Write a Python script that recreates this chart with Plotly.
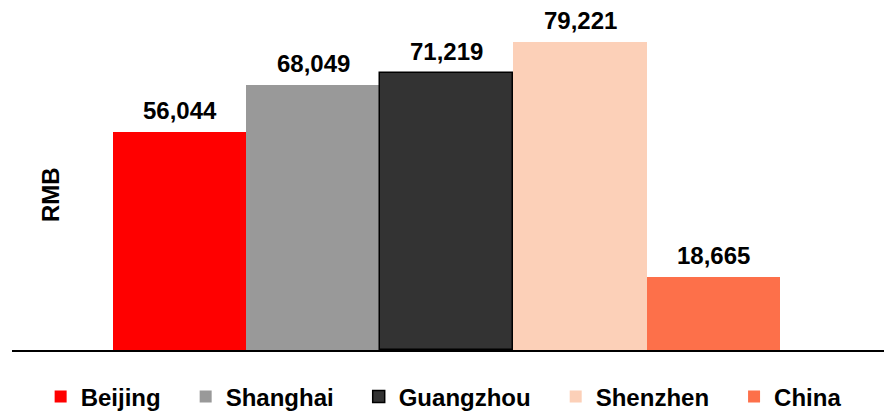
import plotly.graph_objects as go

cities = ["Beijing", "Shanghai", "Guangzhou", "Shenzhen", "China"]
values = [56044, 68049, 71219, 79221, 18665]
colors = ["#FF0000", "#999999", "#333333", "#FCD0B8", "#FD704A"]
outline = ["rgba(0,0,0,0)", "rgba(0,0,0,0)", "#000000", "rgba(0,0,0,0)", "rgba(0,0,0,0)"]
y_title = "RMB"

FONT = "Liberation Sans, Arial, sans-serif"
PAD = "&nbsp;" * 3

fig = go.Figure()
for i, (c, v, col, ol) in enumerate(zip(cities, values, colors, outline)):
    fig.add_trace(go.Bar(
        x=[i], y=[v], name=f"<b>{c}</b>" + (PAD if i < len(cities) - 1 else ""), width=[1.0],
        marker=dict(color=col, line=dict(color=ol, width=1.5 if i == 2 else 0)),
        hoverinfo="skip",
    ))
    fig.add_annotation(
        x=i, y=v, text=f"<b>{v:,}</b>", showarrow=False,
        xref="x", yref="y", yanchor="bottom", yshift=6,
        font=dict(family=FONT, size=24, color="#000000"),
    )

fig.add_annotation(
    xref="paper", yref="paper", x=(50 - 12) / 872, y=(350 - 195) / 330,
    text=f"<b>{y_title}</b>", textangle=-90, showarrow=False,
    xanchor="center", yanchor="middle",
    font=dict(family=FONT, size=24, color="#000000"),
)

fig.update_layout(
    width=884, height=413,
    margin=dict(l=12, r=0, t=20, b=63, autoexpand=False),
    paper_bgcolor="white", plot_bgcolor="white",
    barmode="overlay", bargap=0,
    showlegend=True,
    legend=dict(
        orientation="h", x=0.495, xanchor="center", y=(350 - 397) / 330, yanchor="middle",
        font=dict(family=FONT, size=24, color="#000000"),
        itemclick=False, itemdoubleclick=False,
    ),
    xaxis=dict(range=[-1.255, 5.277], showticklabels=False, ticks="", showgrid=False,
               zeroline=False, showline=True, linecolor="#000000", linewidth=2),
    yaxis=dict(range=[0, 84750], showticklabels=False, ticks="", showgrid=False,
               zeroline=False, showline=False),
    font=dict(family=FONT),
)

fig.write_html("out.html")
